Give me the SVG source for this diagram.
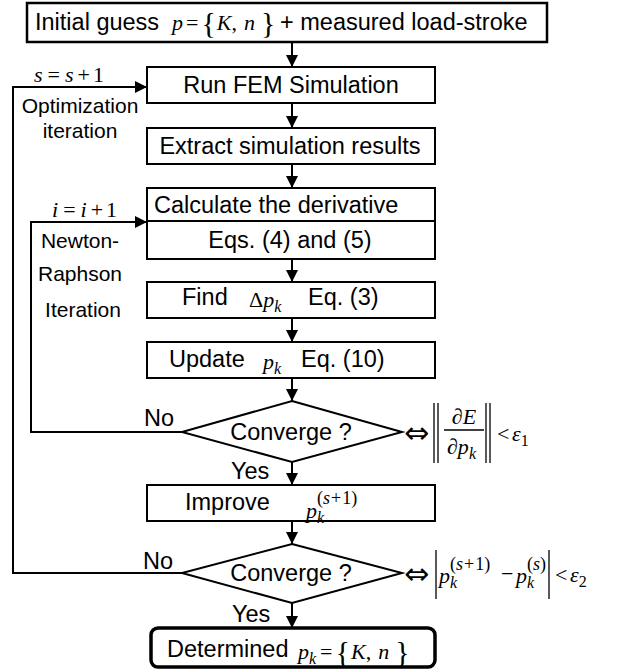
<svg xmlns="http://www.w3.org/2000/svg" width="621" height="672" viewBox="0 0 621 672">
  <defs>
    <marker id="arrow" markerUnits="userSpaceOnUse" markerWidth="12" markerHeight="12" refX="12" refY="6" orient="auto">
      <path d="M0,0 L12,6 L0,12 z" fill="#000"/>
    </marker>
    <style>
      .box { fill: #fff; stroke: #000; stroke-width: 2; }
      .dec { fill: #fff; stroke: #000; stroke-width: 2; }
      .line { fill: none; stroke: #000; stroke-width: 2; }
      .bar { fill: none; stroke: #000; stroke-width: 1.3; }
      .txt { font-family: "Liberation Sans", Arial, sans-serif; font-size: 23.5px; fill: #000; }
      .side { font-family: "Liberation Sans", Arial, sans-serif; font-size: 21px; fill: #000; text-anchor: middle; }
      .m { font-family: "Liberation Serif", "Times New Roman", serif; font-size: 22px; fill: #000; font-style: normal; }
      .mi { font-family: "Liberation Serif", "Times New Roman", serif; font-size: 22px; font-style: italic; fill: #000; }
      .sub { font-family: "Liberation Serif", "Times New Roman", serif; font-size: 16px; font-style: italic; fill: #000; }
      .subn { font-family: "Liberation Serif", "Times New Roman", serif; font-size: 16px; font-style: normal; fill: #000; }
      .sup { font-family: "Liberation Serif", "Times New Roman", serif; font-size: 18px; fill: #000; }
      .brace { font-family: "Liberation Serif", "Times New Roman", serif; font-size: 30px; font-style: normal; fill: #000; }
      .iff { font-family: "DejaVu Sans", sans-serif; font-size: 30px; fill: #000; }
      .mid { text-anchor: middle; }
    </style>
  </defs>

  <!-- connectors -->
  <g id="connectors">
    <line class="line" x1="292" y1="42" x2="292" y2="67" marker-end="url(#arrow)"/>
    <line class="line" x1="292" y1="103" x2="292" y2="128" marker-end="url(#arrow)"/>
    <line class="line" x1="292" y1="164" x2="292" y2="188" marker-end="url(#arrow)"/>
    <line class="line" x1="292" y1="259" x2="292" y2="282" marker-end="url(#arrow)"/>
    <line class="line" x1="292" y1="318" x2="292" y2="342" marker-end="url(#arrow)"/>
    <line class="line" x1="292" y1="378" x2="292" y2="401" marker-end="url(#arrow)"/>
    <line class="line" x1="292" y1="462" x2="292" y2="485" marker-end="url(#arrow)"/>
    <line class="line" x1="292" y1="521" x2="292" y2="544" marker-end="url(#arrow)"/>
    <line class="line" x1="292" y1="603" x2="292" y2="628" marker-end="url(#arrow)"/>
    <!-- Newton-Raphson loop -->
    <polyline class="line" points="182,432 31,432 31,222 147,222" marker-end="url(#arrow)"/>
    <!-- optimization loop -->
    <polyline class="line" points="182,573 13,573 13,87 147,87" marker-end="url(#arrow)"/>
  </g>

  <!-- loop labels -->
  <g id="loop-labels">
    <text class="mi" x="34" y="82">s<tspan class="m" dx="5">=</tspan><tspan dx="5">s</tspan><tspan class="m" dx="4">+</tspan><tspan class="m" dx="3">1</tspan></text>
    <text class="side" x="80" y="113">Optimization</text>
    <text class="side" x="80" y="138">iteration</text>
    <text class="mi" x="52" y="217">i<tspan class="m" dx="5">=</tspan><tspan dx="5">i</tspan><tspan class="m" dx="4">+</tspan><tspan class="m" dx="3">1</tspan></text>
    <text class="side" x="80" y="248">Newton-</text>
    <text class="side" x="80" y="281">Raphson</text>
    <text class="side" x="83" y="317">Iteration</text>
    <text class="txt" x="144" y="426">No</text>
    <text class="txt" x="231" y="479">Yes</text>
    <text class="txt" x="143" y="569">No</text>
    <text class="txt" x="232" y="622">Yes</text>
  </g>

  <g id="initial">
    <rect x="27" y="3" width="520" height="39" style="fill:#fff;stroke:#000;stroke-width:2.5"/>
    <text class="txt" x="35" y="30">Initial guess</text>
    <text class="mi" x="172" y="30">p<tspan class="m" dx="3">=</tspan><tspan class="brace" dx="3" dy="3">{</tspan><tspan class="mi" dx="1" dy="-3">K</tspan><tspan class="m">,</tspan><tspan class="mi" dx="7">n</tspan><tspan class="brace" dx="6" dy="3">}</tspan></text>
    <text class="txt" x="280" y="30">+ measured load-stroke</text>
  </g>

  <g id="run-fem">
    <rect class="box" x="147" y="67" width="288" height="36"/>
    <text class="txt mid" x="291" y="93">Run FEM Simulation</text>
  </g>

  <g id="extract">
    <rect class="box" x="147" y="128" width="288" height="36"/>
    <text class="txt mid" x="290" y="154">Extract simulation results</text>
  </g>

  <g id="derivative">
    <rect class="box" x="147" y="188" width="288" height="71"/>
    <line class="line" x1="147" y1="221" x2="435" y2="221"/>
    <text class="txt" x="154" y="213">Calculate the derivative</text>
    <text class="txt mid" x="290" y="248">Eqs. (4) and (5)</text>
  </g>

  <g id="find-step">
    <rect class="box" x="147" y="282" width="288" height="36"/>
    <text class="txt" x="182" y="305">Find</text>
    <text class="m" x="249" y="307">Δ<tspan class="mi">p</tspan><tspan class="sub" dy="5">k</tspan></text>
    <text class="txt" x="308" y="305">Eq. (3)</text>
  </g>

  <g id="update">
    <rect class="box" x="147" y="342" width="288" height="36"/>
    <text class="txt" x="169" y="367">Update</text>
    <text class="mi" x="263" y="369">p<tspan class="sub" dy="5">k</tspan></text>
    <text class="txt" x="301" y="367">Eq. (10)</text>
  </g>

  <g id="converge-grad">
    <polygon class="dec" points="292,401 402,432 292,462 182,432"/>
    <text class="txt mid" x="291" y="440">Converge ?</text>
    <text class="iff" x="404" y="443">⇔</text>
    <line class="bar" x1="434" y1="403" x2="434" y2="463"/>
    <line class="bar" x1="438" y1="403" x2="438" y2="463"/>
    <text class="mi mid" x="464" y="424">∂E</text>
    <line class="bar" x1="444" y1="430" x2="484" y2="430"/>
    <text class="mi" x="447" y="454">∂p<tspan class="sub" dy="5">k</tspan></text>
    <line class="bar" x1="486" y1="403" x2="486" y2="463"/>
    <line class="bar" x1="490" y1="403" x2="490" y2="463"/>
    <text class="m" x="497" y="441">&lt;</text>
    <text class="mi" x="512" y="441">ε<tspan class="subn" dy="5">1</tspan></text>
  </g>

  <g id="improve">
    <rect class="box" x="147" y="485" width="288" height="36"/>
    <text class="txt" x="185" y="510">Improve</text>
    <text class="mi" x="306" y="518">p<tspan class="sub" dy="5">k</tspan></text>
    <text class="sup" x="317" y="504">(<tspan font-style="italic">s</tspan><tspan dx="1">+</tspan><tspan dx="1">1</tspan>)</text>
  </g>

  <g id="converge-step">
    <polygon class="dec" points="292,544 402,573 292,603 182,573"/>
    <text class="txt mid" x="291" y="581">Converge ?</text>
    <text class="iff" x="404" y="584">⇔</text>
    <line class="bar" x1="436" y1="550" x2="436" y2="599"/>
    <text class="mi" x="439" y="583">p<tspan class="sub" dy="5">k</tspan></text>
    <text class="sup" x="450" y="570">(<tspan font-style="italic">s</tspan><tspan dx="1">+</tspan><tspan dx="1">1</tspan>)</text>
    <text class="m" x="501" y="581">−</text>
    <text class="mi" x="516" y="583">p<tspan class="sub" dy="5">k</tspan></text>
    <text class="sup" x="527" y="570">(<tspan font-style="italic">s</tspan>)</text>
    <line class="bar" x1="549" y1="550" x2="549" y2="599"/>
    <text class="m" x="555" y="582">&lt;</text>
    <text class="mi" x="570" y="582">ε<tspan class="subn" dy="5">2</tspan></text>
  </g>

  <g id="determined">
    <rect x="151" y="628" width="284" height="39" rx="7" ry="7" style="fill:#fff;stroke:#000;stroke-width:3.5"/>
    <text class="txt" x="167" y="657">Determined</text>
    <text class="mi" x="298" y="659">p<tspan class="sub" dy="5">k</tspan><tspan class="m" dx="4" dy="-5">=</tspan><tspan class="brace" dx="3" dy="3">{</tspan><tspan class="mi" dx="1" dy="-3">K</tspan><tspan class="m">,</tspan><tspan class="mi" dx="7">n</tspan><tspan class="brace" dx="6" dy="3">}</tspan></text>
  </g>
</svg>
